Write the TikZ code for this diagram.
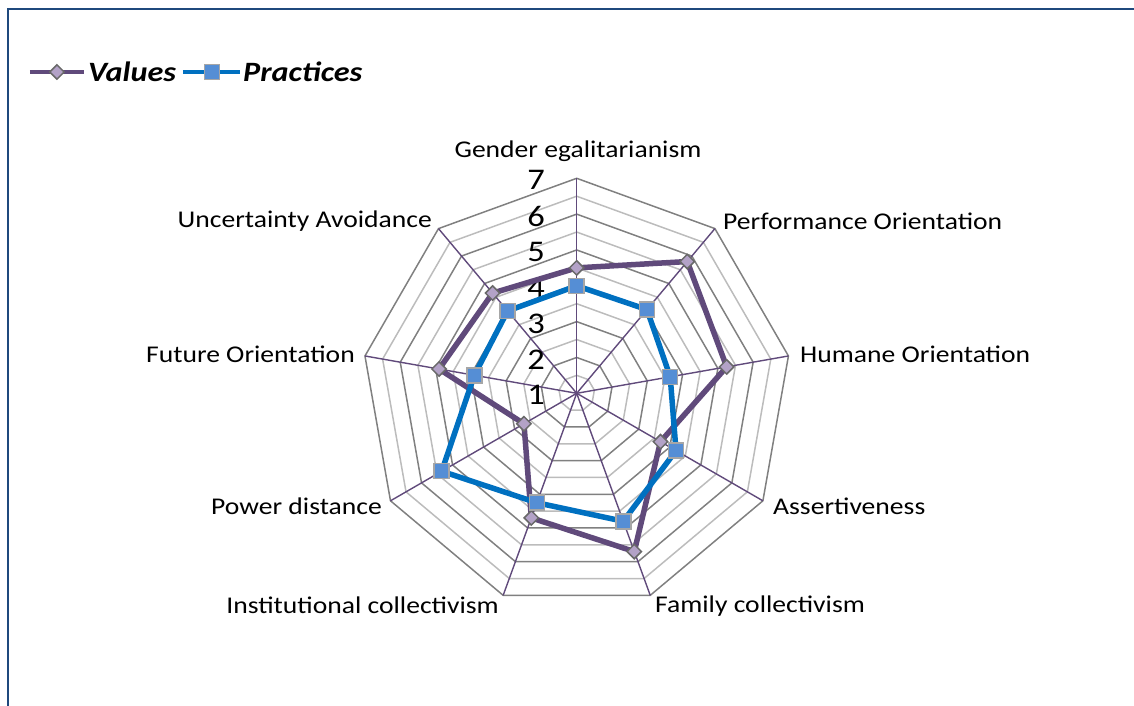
\documentclass[tikz,border=0pt]{standalone}
\usepackage{fontspec}
\setmainfont{Carlito}[FakeStretch=1.15]
\usetikzlibrary{positioning,shapes.geometric}
\definecolor{valcol}{RGB}{96,74,123}
\definecolor{valfill}{RGB}{179,162,199}
\definecolor{praccol}{RGB}{0,112,192}
\definecolor{pracfill}{RGB}{85,142,213}
\definecolor{framecol}{RGB}{31,73,125}
\tikzset{font=\fontsize{24}{28}\selectfont}
\tikzset{
	griddk/.style={draw={rgb,255:red,128;green,128;blue,128}, line width=1.5pt},
	gridlt/.style={draw={rgb,255:red,188;green,188;blue,188}, line width=1.5pt},
	spoke/.style={draw=valcol, line width=1.4pt},
	valline/.style={draw=valcol, line width=5.5pt, line join=round},
	pracline/.style={draw=praccol, line width=5.5pt, line join=round},
	valmark/.style={diamond, draw={rgb,255:red,105;green,105;blue,105}, fill=valfill, line width=1.5pt, minimum size=15pt, inner sep=0pt},
	pracmark/.style={rectangle, draw={rgb,255:red,166;green,166;blue,166}, fill=pracfill, line width=1.5pt, minimum size=15pt, inner sep=0pt},
	axlabel/.style={inner sep=0pt},
	scalelabel/.style={inner sep=0pt, anchor=east, font=\fontsize{30}{32}\selectfont},
	legtext/.style={inner sep=0pt, font=\fontsize{28}{32}\selectfont\bfseries\itshape}
}

\begin{document}
\begin{tikzpicture}[x=1pt, y=1pt]
	\useasboundingbox (-576.7,-312.7) rectangle (557.3,393.3);
	\draw[framecol, line width=2pt] (-568.7,-312.7) -- (-568.7,384.3) -- (557.3,384.3);

	% grid rings, half steps light, whole steps dark
	\foreach \k in {1,3,...,11}
		\draw[gridlt] (90:{\k*215/12}) \foreach \a in {50,10,...,-230} { -- (\a:{\k*215/12}) } -- cycle;
	\foreach \k in {2,4,...,12}
		\draw[griddk] (90:{\k*215/12}) \foreach \a in {50,10,...,-230} { -- (\a:{\k*215/12}) } -- cycle;

	% axes
	\coordinate (o) at (0,0);
	\foreach \i/\a in {1/90,2/50,3/10,4/-30,5/-70,6/-110,7/-150,8/-190,9/-230}
		\coordinate (a\i) at (\a:215);
	\foreach \i in {1,...,9}
		\draw[spoke] (o) -- (a\i);

	\node[axlabel] (l1) at (1.3,242.3) {Gender egalitarianism};
	\node[axlabel, anchor=west] (l2) at (146.3,172.3) {Performance Orientation};
	\node[axlabel, anchor=west] (l3) at (223.3,39.3) {Humane Orientation};
	\node[axlabel, anchor=west] (l4) at (196.3,-112.7) {Assertiveness};
	\node[axlabel, anchor=west] (l5) at (78.3,-212.7) {Family collectivism};
	\node[axlabel, anchor=east] (l6) at (-77.7,-211.7) {Institutional collectivism};
	\node[axlabel, anchor=east] (l7) at (-194.7,-112.7) {Power distance};
	\node[axlabel, anchor=east] (l8) at (-221.7,39.3) {Future Orientation};
	\node[axlabel, anchor=east] (l9) at (-144.7,172.3) {Uncertainty Avoidance};

	% scale
	\foreach \v in {1,...,7}
		\node[scalelabel] (s\v) at (-31.7,{(\v-1)*215/6-2}) {\v};

	% values
	\coordinate (v1) at (90:{(4.5-1)*215/6});
	\coordinate (v2) at (50:{(5.8-1)*215/6});
	\coordinate (v3) at (10:{(5.25-1)*215/6});
	\coordinate (v4) at (-30:{(3.7-1)*215/6});
	\coordinate (v5) at (-70:{(5.7-1)*215/6});
	\coordinate (v6) at (-110:{(4.7-1)*215/6});
	\coordinate (v7) at (-150:{(2.7-1)*215/6});
	\coordinate (v8) at (170:{(4.9-1)*215/6});
	\coordinate (v9) at (130:{(4.65-1)*215/6});
	\draw[valline] (v1) -- (v2) -- (v3) -- (v4) -- (v5) -- (v6) -- (v7) -- (v8) -- (v9) -- cycle;
	\foreach \i in {1,...,9}
		\node[valmark] (mv\i) at (v\i) {};

	% practices
	\coordinate (p1) at (90:{(4.0-1)*215/6});
	\coordinate (p2) at (50:{(4.05-1)*215/6});
	\coordinate (p3) at (10:{(3.65-1)*215/6});
	\coordinate (p4) at (-30:{(4.2-1)*215/6});
	\coordinate (p5) at (-70:{(4.8-1)*215/6});
	\coordinate (p6) at (-110:{(4.25-1)*215/6});
	\coordinate (p7) at (-150:{(5.35-1)*215/6});
	\coordinate (p8) at (170:{(3.9-1)*215/6});
	\coordinate (p9) at (130:{(4.0-1)*215/6});
	\draw[pracline] (p1) -- (p2) -- (p3) -- (p4) -- (p5) -- (p6) -- (p7) -- (p8) -- (p9) -- cycle;
	\foreach \i in {1,...,9}
		\node[pracmark] (mp\i) at (p\i) {};

	% legend
	\coordinate (lv1) at (-546.7,321.3);
	\coordinate (lv2) at (-492.7,321.3);
	\draw[valline, line width=4.5pt] (lv1) -- (lv2);
	\node[valmark] (lvm) at (-519.7,321.3) {};
	\node[legtext, right=4pt of lv2] (lvt) {Values};
	\coordinate (lp1) at (-393.7,321.3);
	\coordinate (lp2) at (-336.7,321.3);
	\draw[pracline, line width=4.5pt] (lp1) -- (lp2);
	\node[pracmark] (lpm) at (-364.7,321.3) {};
	\node[legtext, right=3pt of lp2] (lpt) {Practices};
\end{tikzpicture}
\end{document}
